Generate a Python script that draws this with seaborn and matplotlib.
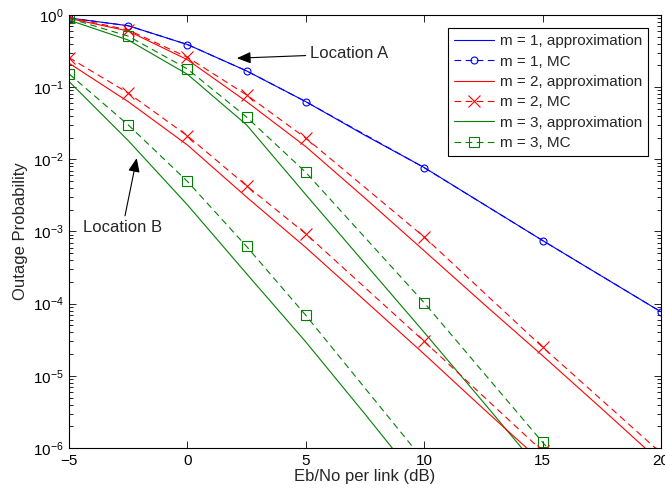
import numpy as np
import pandas as pd
import matplotlib
matplotlib.use("Agg")
import matplotlib.pyplot as plt
import seaborn as sns

# ---------------- data ----------------
snr_grid = [-5, -2.5, 0, 2.5, 5, 7.5, 10, 12.5, 15, 17.5, 20]
snr_mc = [-5, -2.5, 0, 2.5, 5, 10, 15, 20]

# m = 1 (Location A)
m1_approx = [0.91, 0.71, 0.39, 0.168, 0.063, 0.0215, 0.0077, 0.0024, 7.5e-4, 2.4e-4, 7.7e-5]
m1_mc = [0.91, 0.71, 0.39, 0.168, 0.063, 0.00766, 7.5e-4, 7.7e-5]

# m = 2, Location A
m2_approx_A = [0.90, 0.60, 0.24, 0.063, 0.0150, 0.0029, 5.4e-4, 1.0e-4, 1.9e-5, 3.5e-6, 6.3e-7]
m2_mc_A = [0.93, 0.62, 0.26, 0.078, 0.0197, 8.4e-4, 2.5e-5, 8.5e-7]
# m = 2, Location B
snr_grid_m2B = [-5, -2.5, 0, 2.5, 5, 7.5, 10, 12.5, 15]
m2_approx_B = [0.215, 0.063, 0.0158, 0.0030, 6.0e-4, 1.1e-4, 2.0e-5, 3.5e-6, 6.3e-7]
snr_mc_m2B = [-5, -2.5, 0, 2.5, 5, 10, 15]
m2_mc_B = [0.257, 0.083, 0.0212, 0.0043, 9.3e-4, 3.0e-5, 9.0e-7]

# m = 3, Location A
snr_grid_m3A = [-5, -2.5, 0, 2.5, 5, 7.5, 10, 12.5, 15]
m3_approx_A = [0.85, 0.45, 0.151, 0.030, 0.00324, 3.6e-4, 4.0e-5, 4.3e-6, 4.5e-7]
m3_mc_A = [0.90, 0.51, 0.179, 0.0385, 0.0066, 1.03e-4, 1.2e-6, 1.5e-8]
# m = 3, Location B
snr_grid_m3B = [-5, -2.5, 0, 2.5, 5, 7.5, 10]
m3_approx_B = [0.12, 0.0182, 0.00234, 2.6e-4, 2.95e-5, 2.95e-6, 2.8e-7]
snr_mc_m3B = [-5, -2.5, 0, 2.5, 5, 10]
m3_mc_B = [0.153, 0.030, 0.00495, 6.2e-4, 6.9e-5, 6.6e-7]

legend_labels = ["m = 1, approximation", "m = 1, MC",
                 "m = 2, approximation", "m = 2, MC",
                 "m = 3, approximation", "m = 3, MC"]
x_label = "Eb/No per link (dB)"
y_label = "Outage Probability"
x_ticks = [-5, 0, 5, 10, 15, 20]

# ---------------- style ----------------
sns.set_style("ticks")
plt.rcParams["font.family"] = ["Liberation Sans", "DejaVu Sans"]
plt.rcParams["mathtext.fontset"] = "custom"
plt.rcParams["mathtext.rm"] = "Liberation Sans"
plt.rcParams["mathtext.it"] = "Liberation Sans:italic"
plt.rcParams["mathtext.bf"] = "Liberation Sans:bold"
plt.rcParams["axes.unicode_minus"] = True

BLUE = (0, 0, 1)
RED = (1, 0, 0)
GREEN = (0, 0.5, 0)
LW = 0.8
DASH = (0, (6, 4))

fig = plt.figure(figsize=(6.65, 4.93), dpi=100)
ax = fig.add_axes([69 / 665, 45 / 493, (661 - 69) / 665, (448 - 15) / 493])


def draw(x, y, color, dashed=False, marker=None, ms=6, label=None):
    df = pd.DataFrame({"snr": x, "p": y})
    kw = dict(color=color, lw=LW, errorbar=None, ax=ax, sort=False)
    if dashed:
        kw["linestyle"] = DASH
    if marker is not None:
        kw.update(marker=marker, markersize=ms, markerfacecolor="none",
                  markeredgecolor=color, markeredgewidth=0.8)
    kw["label"] = label if label is not None else "_nolegend_"
    sns.lineplot(data=df, x="snr", y="p", **kw)


draw(snr_grid, m1_approx, BLUE, label=legend_labels[0])
draw(snr_mc, m1_mc, BLUE, dashed=True, marker="o", ms=5, label=legend_labels[1])
draw(snr_grid, m2_approx_A, RED, label=legend_labels[2])
draw(snr_mc, m2_mc_A, RED, dashed=True, marker="x", ms=9, label=legend_labels[3])
draw(snr_grid_m3A, m3_approx_A, GREEN, label=legend_labels[4])
draw(snr_mc, m3_mc_A, GREEN, dashed=True, marker="s", ms=7, label=legend_labels[5])
draw(snr_grid_m2B, m2_approx_B, RED)
draw(snr_mc_m2B, m2_mc_B, RED, dashed=True, marker="x", ms=9)
draw(snr_grid_m3B, m3_approx_B, GREEN)
draw(snr_mc_m3B, m3_mc_B, GREEN, dashed=True, marker="s", ms=7)

ax.set_yscale("log")
ax.set_xlim(-5, 20)
ax.set_ylim(1e-6, 1)
ax.set_xticks(x_ticks)
ax.set_xlabel(x_label, fontsize=12, labelpad=1)
ax.set_ylabel(y_label, fontsize=12, labelpad=3)

for s in ax.spines.values():
    s.set_visible(True)
    s.set_color("black")
    s.set_linewidth(0.8)
ax.tick_params(which="both", direction="in", top=True, right=True,
               colors="black", labelsize=11, width=0.6)
ax.tick_params(which="major", length=5, pad=4)
ax.tick_params(which="minor", length=3)
ax.tick_params(axis="x", which="minor", bottom=False, top=False)
ax.grid(False)

handles, labels = ax.get_legend_handles_labels()
leg = ax.legend(handles[:6], labels[:6], loc="upper right", fontsize=11,
                frameon=True, fancybox=False, edgecolor="black", framealpha=1,
                borderaxespad=0.85, handlelength=2.6, handletextpad=0.4,
                labelspacing=0.42, borderpad=0.4)
leg.get_frame().set_linewidth(0.8)

arrow = dict(arrowstyle="-|>,head_length=0.6,head_width=0.25", color="black",
             lw=0.8, mutation_scale=14, shrinkA=1, shrinkB=0)
ax.annotate("Location A", xy=(2.09, 0.252), xytext=(5.19, 0.289),
            ha="left", va="center", fontsize=12, arrowprops=arrow)
ax.annotate("Location B", xy=(-2.14, 0.0104), xytext=(-2.74, 0.00112),
            ha="center", va="center", fontsize=12, arrowprops=arrow)

fig.savefig("out.png", dpi=100)
